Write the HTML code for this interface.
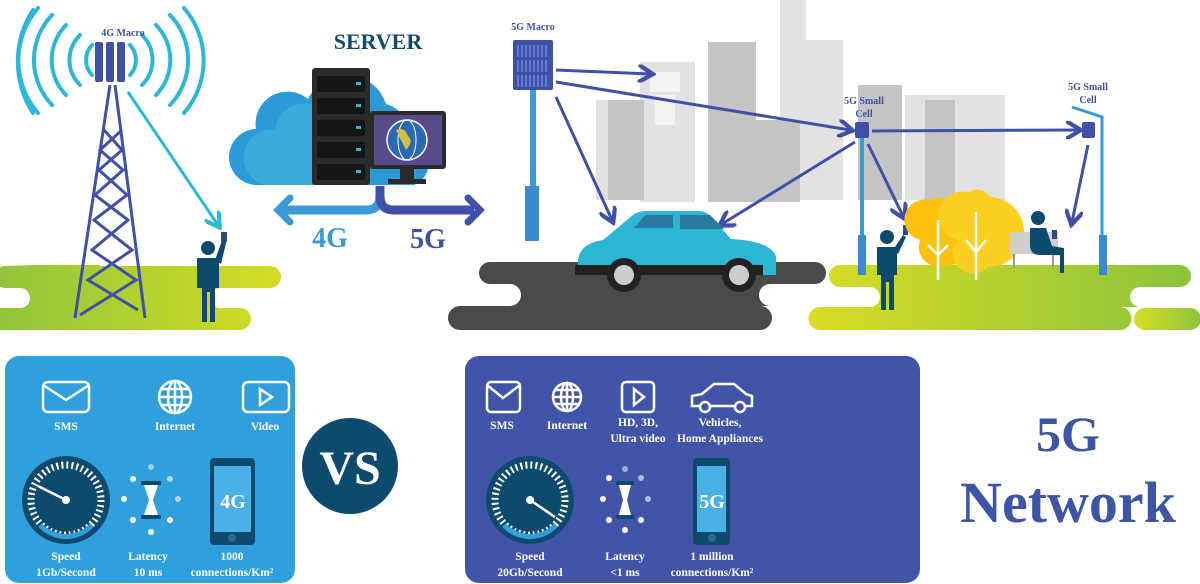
<!DOCTYPE html>
<html><head><meta charset="utf-8"><style>
html,body{margin:0;padding:0;background:#fff;width:1200px;height:584px;overflow:hidden}
svg text{font-family:"Liberation Serif",serif;font-weight:bold}
</style></head><body>
<svg width="1200" height="584" viewBox="0 0 1200 584" xmlns="http://www.w3.org/2000/svg">
<defs>
<linearGradient id="g1" x1="0" x2="1"><stop offset="0" stop-color="#8cc43c"/><stop offset="1" stop-color="#d4dc24"/></linearGradient>
<linearGradient id="g2" x1="0" x2="1"><stop offset="0" stop-color="#d8dc24"/><stop offset="1" stop-color="#8cc43c"/></linearGradient>
<marker id="ap" markerWidth="6" markerHeight="6" refX="4" refY="3" orient="auto" markerUnits="strokeWidth"><path d="M0,0 L5,3 L0,6" fill="none" stroke="#4050a8" stroke-width="1.4"/></marker>
<marker id="ac" markerWidth="6" markerHeight="6" refX="4" refY="3" orient="auto" markerUnits="strokeWidth"><path d="M0,0 L5,3 L0,6" fill="none" stroke="#2bb8d8" stroke-width="1.4"/></marker>
</defs>

<!-- buildings -->
<g fill="#e2e2e2">
<rect x="780" y="0" width="26" height="200"/>
<rect x="596" y="100" width="60" height="100"/>
<rect x="640" y="62" width="55" height="140"/>
<rect x="798" y="40" width="45" height="160"/>
<rect x="782" y="100" width="30" height="100"/>
<rect x="905" y="95" width="48" height="105"/>
<rect x="950" y="95" width="55" height="105"/>
</g>
<g fill="#c4c4c4">
<rect x="608" y="100" width="36" height="100"/>
<rect x="708" y="42" width="48" height="160"/>
<rect x="858" y="85" width="44" height="115"/>
<rect x="925" y="100" width="30" height="100"/>
<rect x="740" y="120" width="60" height="82"/>
</g>
<g fill="#f4f4f4"><rect x="650" y="72" width="30" height="20"/><rect x="655" y="95" width="20" height="30"/></g>

<!-- roads / grass -->
<path d="M490,262 h35 a10,10 0 0 1 0,20 h-35 a10,10 0 0 1 0,-20z" fill="#4a4a4a"/>
<path d="M540,262 h275 a11,11 0 0 1 0,22 h-45 a11,11 0 0 0 0,22 h-10 a12,12 0 0 1 0,24 h-300 a12,12 0 0 1 0,-24 h50 a11,11 0 0 0 0,-22 h-20 a11,11 0 0 1 0,-22z" fill="#4a4a4a"/>
<path d="M35,265 h65 a10,10 0 0 1 0,1 h60 h110 a10,10 0 0 1 0,22 h-50 a10,10 0 0 0 0,20 h20 a11,11 0 0 1 0,22 h-250 a11,11 0 0 1 0,-22 h30 a10,10 0 0 0 0,-20 h-15 a11,11 0 0 1 0,-22z" fill="url(#g1)"/>
<path d="M840,265 h340 a11,11 0 0 1 0,22 h-40 a10,10 0 0 0 0,20 h-20 a11,11 0 0 1 0,23 h-300 a11,11 0 0 1 0,-23 h50 a10,10 0 0 0 0,-20 h-30 a11,11 0 0 1 0,-22z" fill="url(#g2)"/>
<path d="M1145,308 h45 a11,11 0 0 1 0,22 h-45 a11,11 0 0 1 0,-22z" fill="url(#g2)"/>

<!-- 4G tower arcs -->
<g fill="none" stroke="#2bb8d8" stroke-width="4" stroke-linecap="round">
<path d="M92,45 a22,22 0 0 0 0,30"/><path d="M80,35 a35,35 0 0 0 0,50"/><path d="M66,25 a50,50 0 0 0 0,70"/><path d="M52,15 a65,65 0 0 0 0,90"/><path d="M38,8 a80,80 0 0 0 0,105"/><path d="M33,10 a95,95 0 0 0 0,103"/>
<path d="M130,45 a22,22 0 0 1 0,30"/><path d="M142,35 a35,35 0 0 1 0,50"/><path d="M156,25 a50,50 0 0 1 0,70"/><path d="M170,15 a65,65 0 0 1 0,90"/><path d="M184,8 a80,80 0 0 1 0,105"/>
</g>
<text x="123" y="36" font-size="10" fill="#4050a8" text-anchor="middle">4G Macro</text>
<g fill="#4050a8"><rect x="95" y="42" width="8" height="40" rx="2"/><rect x="106" y="42" width="8" height="40" rx="2"/><rect x="117" y="42" width="8" height="40" rx="2"/></g>
<g stroke="#4050a8" stroke-width="3" fill="none">
<path d="M110,85 L75,318 M115,85 L145,318"/>
<path d="M104,130 L122,150 L99,170 L127,195 L94,220 L132,250 L88,280 L138,310 M122,130 L100,150 L123,170 L95,195 L128,220 L92,250 L136,280 L80,315"/>
</g>
<line x1="128" y1="92" x2="218" y2="225" stroke="#2bb8d8" stroke-width="3" marker-end="url(#ac)"/>
<!-- person left -->
<g fill="#0e4a6e"><circle cx="208" cy="248" r="7"/><path d="M197,258 h22 v30 h-4 v34 h-5 v-30 h-3 v30 h-5 v-34 h-5z"/><path d="M215,260 l8,-22 l4,1 l-6,25z"/></g>
<rect x="221" y="232" width="6" height="10" fill="#2a4a7a"/>

<!-- server -->
<text x="378" y="49" font-size="22" fill="#0e4a6e" text-anchor="middle">SERVER</text>
<path d="M258,185 a28,28 0 0 1 -2,-56 a32,32 0 0 1 52,-30 a42,42 0 0 1 78,5 a30,30 0 0 1 22,35 a24,24 0 0 1 6,46z" fill="#2c9ad8"/>
<path d="M265,185 a28,28 0 0 1 10,-55 a30,30 0 0 1 40,-25 v80z" fill="#3aaad8"/>
<rect x="312" y="68" width="58" height="117" rx="3" fill="#2a2a2a"/>
<g fill="#151515"><rect x="317" y="76" width="48" height="16" rx="2"/><rect x="317" y="98" width="48" height="16" rx="2"/><rect x="317" y="120" width="48" height="16" rx="2"/><rect x="317" y="142" width="48" height="16" rx="2"/><rect x="317" y="164" width="48" height="16" rx="2"/></g>
<g fill="#2bb8d8"><rect x="356" y="82" width="5" height="3"/><rect x="356" y="104" width="5" height="3"/><rect x="356" y="126" width="5" height="3"/><rect x="356" y="148" width="5" height="3"/><rect x="356" y="170" width="5" height="3"/></g>
<rect x="370" y="111" width="76" height="58" rx="3" fill="#2a2a2a"/><rect x="374" y="115" width="68" height="50" fill="#5a4a8c"/>
<circle cx="407" cy="140" r="20" fill="#2a6ab0" stroke="#fff" stroke-width="1.5"/><ellipse cx="407" cy="140" rx="9" ry="20" fill="none" stroke="#fff"/><path d="M396,130 q8,-4 12,6 q6,6 -2,14z" fill="#d4c040"/>
<rect x="400" y="169" width="14" height="10" fill="#2a2a2a"/><rect x="388" y="179" width="38" height="5" fill="#2a2a2a"/>
<path d="M380,186 v10 q0,14 -14,14 h-86" fill="none" stroke="#3a9ad8" stroke-width="9"/>
<path d="M290,198 l-12,12 l12,12" fill="none" stroke="#3a9ad8" stroke-width="7" stroke-linecap="round"/>
<path d="M380,186 v10 q0,14 14,14 h80" fill="none" stroke="#4050a8" stroke-width="9"/>
<path d="M468,198 l12,12 l-12,12" fill="none" stroke="#4050a8" stroke-width="7" stroke-linecap="round"/>
<text x="330" y="247" font-size="28" fill="#3a9ad8" text-anchor="middle">4G</text>
<text x="428" y="248" font-size="28" fill="#4050a8" text-anchor="middle">5G</text>

<!-- 5G macro -->
<text x="533" y="30" font-size="10" fill="#4050a8" text-anchor="middle">5G Macro</text>
<rect x="530" y="88" width="6" height="100" fill="#3a9ad8"/><rect x="525" y="186" width="14" height="55" fill="#3a8ad0"/>
<rect x="513" y="40" width="40" height="50" rx="2" fill="#4050a8"/>
<g stroke="#6a8ae0" stroke-width="1.5"><path d="M518,45v12M522,45v12M526,45v12M530,45v12M534,45v12M538,45v12M542,45v12M546,45v12M518,60v12M522,60v12M526,60v12M530,60v12M534,60v12M538,60v12M542,60v12M546,60v12M518,75v12M522,75v12M526,75v12M530,75v12M534,75v12M538,75v12M542,75v12M546,75v12"/></g>

<!-- small cells -->
<text x="864" y="104" font-size="10" fill="#4050a8" text-anchor="middle">5G Small</text>
<text x="864" y="117" font-size="10" fill="#4050a8" text-anchor="middle">Cell</text>
<rect x="860" y="135" width="4" height="140" fill="#3a9ad8"/><rect x="858" y="235" width="8" height="40" fill="#3a8ad0"/>
<rect x="855" y="122" width="14" height="16" rx="2" fill="#4050a8"/>
<text x="1088" y="90" font-size="10" fill="#4050a8" text-anchor="middle">5G Small</text>
<text x="1088" y="103" font-size="10" fill="#4050a8" text-anchor="middle">Cell</text>
<path d="M1072,107 l30,10 v158" fill="none" stroke="#3a9ad8" stroke-width="3"/><rect x="1099" y="235" width="8" height="40" fill="#3a8ad0"/>
<rect x="1082" y="122" width="13" height="16" rx="2" fill="#4050a8"/>

<!-- purple arrows -->
<g stroke="#4050a8" stroke-width="3" fill="none" marker-end="url(#ap)">
<line x1="556" y1="70" x2="650" y2="74"/>
<line x1="556" y1="82" x2="850" y2="130"/>
<line x1="556" y1="97" x2="612" y2="220"/>
<line x1="855" y1="142" x2="722" y2="224"/>
<line x1="872" y1="131" x2="1078" y2="130"/>
<line x1="868" y1="144" x2="903" y2="216"/>
<line x1="1088" y1="145" x2="1072" y2="222"/>
</g>

<!-- car -->
<path d="M578,262 q0,-18 25,-22 l30,-25 q5,-4 15,-4 h50 q10,0 15,8 l18,20 q40,2 45,18 v18 h-198z" fill="#2ab6d4"/>
<path d="M637,225 l8,-10 h28 v13 h-40z M680,215 h30 l14,14 h-44z" fill="#2a7aa0"/>
<rect x="575" y="265" width="188" height="10" fill="#222"/>
<g><circle cx="624" cy="275" r="17" fill="#222"/><circle cx="624" cy="275" r="10" fill="#ccc"/><circle cx="739" cy="275" r="17" fill="#222"/><circle cx="739" cy="275" r="10" fill="#ccc"/></g>

<!-- park -->
<g fill="#0e4a6e"><circle cx="887" cy="237" r="7"/><path d="M877,247 h20 v28 h-3 v35 h-5 v-28 h-3 v28 h-5 v-35 h-4z"/><path d="M893,250 l10,-15 l3,2 l-8,17z"/></g>
<rect x="903" y="225" width="5" height="10" fill="#2a4a7a"/>
<path d="M920,240 a18,18 0 0 1 10,-40 a16,16 0 0 1 22,5 a20,20 0 0 1 -5,60 a20,20 0 0 1 -27,-25z" fill="#fcc010"/>
<path d="M958,240 a18,18 0 0 1 10,-48 a16,16 0 0 1 22,5 a22,22 0 0 1 -2,70 a20,20 0 0 1 -30,-27z" fill="#fbd020"/>
<path d="M938,220 v60 M928,245 l10,10 l10,-10 M976,212 v68 M966,240 l10,12 l10,-12" stroke="#fff" stroke-width="2.5" fill="none"/>
<rect x="1010" y="232" width="48" height="22" fill="#cfcfcf"/><rect x="1013" y="254" width="2" height="14" fill="#999"/><rect x="1052" y="254" width="2" height="14" fill="#999"/>
<g fill="#0e4a6e"><circle cx="1038" cy="218" r="7"/><path d="M1030,228 h16 l6,18 l12,2 v25 h-4 v-18 h-20 q-10,0 -10,-10z"/></g>
<rect x="1052" y="230" width="5" height="9" fill="#2a4a7a"/>

<!-- bottom left panel -->
<rect x="5" y="356" width="290" height="227" rx="14" fill="#2fa0dc"/>
<g fill="none" stroke="#fff" stroke-width="2.5">
<rect x="43" y="382" width="46" height="30" rx="5"/><path d="M43,385 l23,15 l23,-15"/>
<circle cx="175" cy="397" r="16"/><ellipse cx="175" cy="397" rx="7" ry="16"/><path d="M159,397h32M161,389h28M161,405h28M175,381v32"/>
<rect x="243" y="382" width="46" height="30" rx="5"/><path d="M260,389 l12,8 l-12,8z"/>
</g>
<g font-size="11.5" fill="#fff" text-anchor="middle">
<text x="66" y="430">SMS</text><text x="175" y="430">Internet</text><text x="265" y="430">Video</text>
<text x="66" y="560">Speed</text><text x="66" y="576">1Gb/Second</text>
<text x="148" y="560">Latency</text><text x="148" y="576">10 ms</text>
<text x="232" y="560">1000</text><text x="232" y="576">connections/Km²</text>
</g>
<circle cx="66" cy="500" r="44" fill="#0e4a6e"/>
<circle cx="66" cy="500" r="35" fill="none" stroke="#fff" stroke-width="7" stroke-dasharray="2 3"/>
<path d="M40,525 a35,35 0 0 0 52,0" stroke="#2fa0dc" stroke-width="5" fill="none"/>
<line x1="66" y1="500" x2="38" y2="486" stroke="#fff" stroke-width="2.5"/><circle cx="66" cy="500" r="4" fill="#fff"/>
<g fill="#fff"><circle cx="151" cy="467" r="3" opacity=".5"/><circle cx="133" cy="479" r="3"/><circle cx="170" cy="479" r="3" opacity=".6"/><circle cx="124" cy="499" r="3"/><circle cx="178" cy="499" r="3" opacity=".6"/><circle cx="133" cy="520" r="3"/><circle cx="170" cy="520" r="3"/><circle cx="151" cy="532" r="3"/></g>
<rect x="141" y="481" width="20" height="4" fill="#0e4a6e"/><rect x="141" y="515" width="20" height="4" fill="#0e4a6e"/><path d="M144,485 h14 l-5,15 l5,15 h-14 l5,-15z" fill="#fff"/>
<rect x="210" y="458" width="45" height="87" rx="4" fill="#0e4a6e"/><rect x="214" y="466" width="37" height="66" fill="#4ab0e8"/>
<text x="233" y="508" font-size="20" fill="#fff" text-anchor="middle">4G</text><circle cx="232" cy="538" r="4" fill="#2a6a90"/>

<!-- VS -->
<circle cx="350" cy="466" r="48" fill="#0e4a6e"/>
<text x="350" y="484" font-size="48" fill="#fff" text-anchor="middle">VS</text>

<!-- bottom right panel -->
<rect x="465" y="356" width="455" height="227" rx="14" fill="#4254a8"/>
<g fill="none" stroke="#fff" stroke-width="2.5">
<rect x="487" y="382" width="33" height="30" rx="4"/><path d="M487,385 l16,13 l17,-13"/>
<circle cx="567" cy="397" r="14"/><ellipse cx="567" cy="397" rx="6" ry="14"/><path d="M553,397h28M555,390h24M555,404h24M567,383v28"/>
<rect x="622" y="382" width="32" height="30" rx="4"/><path d="M634,389 l10,8 l-10,8z"/>
<path d="M692,406 v-10 l10,-2 l12,-10 h20 l12,10 l6,2 v10z"/><circle cx="705" cy="407" r="5" fill="#4254a8"/><circle cx="740" cy="407" r="5" fill="#4254a8"/>
</g>
<g font-size="11.5" fill="#fff" text-anchor="middle">
<text x="502" y="429">SMS</text><text x="567" y="429">Internet</text>
<text x="638" y="426">HD, 3D,</text><text x="638" y="442">Ultra video</text>
<text x="720" y="426">Vehicles,</text><text x="720" y="442">Home Appliances</text>
<text x="530" y="560">Speed</text><text x="530" y="576">20Gb/Second</text>
<text x="625" y="560">Latency</text><text x="625" y="576">&lt;1 ms</text>
<text x="712" y="560">1 million</text><text x="712" y="576">connections/Km²</text>
</g>
<circle cx="530" cy="500" r="44" fill="#0e4a6e"/>
<circle cx="530" cy="500" r="35" fill="none" stroke="#fff" stroke-width="7" stroke-dasharray="2 3"/>
<path d="M504,525 a35,35 0 0 0 52,0" stroke="#2fa0dc" stroke-width="5" fill="none"/>
<line x1="530" y1="500" x2="555" y2="517" stroke="#fff" stroke-width="2.5"/><circle cx="530" cy="500" r="4" fill="#fff"/>
<g fill="#fff"><circle cx="625" cy="469" r="3" opacity=".5"/><circle cx="609" cy="478" r="3"/><circle cx="641" cy="478" r="3" opacity=".6"/><circle cx="603" cy="499" r="3"/><circle cx="648" cy="499" r="3" opacity=".6"/><circle cx="609" cy="520" r="3"/><circle cx="641" cy="520" r="3"/><circle cx="625" cy="530" r="3"/></g>
<rect x="616" y="481" width="18" height="4" fill="#0e4a6e"/><rect x="616" y="515" width="18" height="4" fill="#0e4a6e"/><path d="M619,485 h12 l-4,15 l4,15 h-12 l4,-15z" fill="#fff"/>
<rect x="693" y="458" width="37" height="87" rx="4" fill="#0e4a6e"/><rect x="697" y="466" width="29" height="66" fill="#4ab0e8"/>
<text x="712" y="508" font-size="20" fill="#fff" text-anchor="middle">5G</text><circle cx="712" cy="538" r="4" fill="#2a6a90"/>

<!-- 5G Network -->
<text x="1068" y="451" font-size="50" fill="#3e55a5" text-anchor="middle">5G</text>
<text x="1068" y="522" font-size="58" fill="#3e55a5" text-anchor="middle">Network</text>
</svg>
</body></html>
